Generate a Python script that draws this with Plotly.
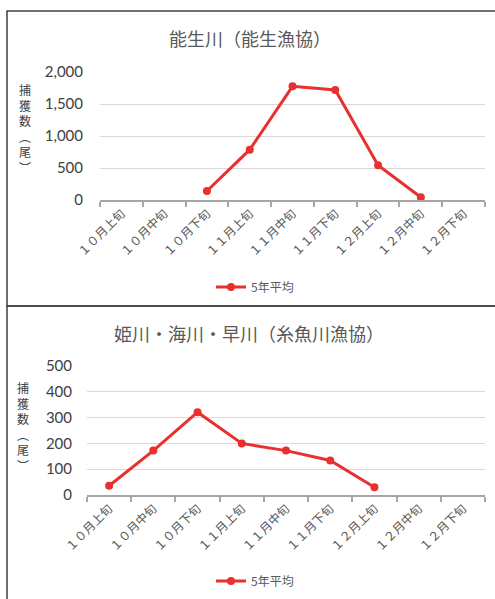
import plotly.graph_objects as go

W, H = 495, 599

categories = ["１０月上旬", "１０月中旬", "１０月下旬", "１１月上旬", "１１月中旬",
              "１１月下旬", "１２月上旬", "１２月中旬", "１２月下旬"]
noh_values = [None, None, 141, 786, 1776, 1719, 542, 42, None]
itoigawa_values = [36, 172, 321, 200, 172, 134, 30, None, None]
series_name = "5年平均"
title_top = "能生川（能生漁協）"
title_bottom = "姫川・海川・早川（糸魚川漁協）"
ytitle_chars = ["捕", "獲", "数", "︵", "尾", "︶"]
top_ticks = [0, 500, 1000, 1500, 2000]
bottom_ticks = [0, 100, 200, 300, 400, 500]

RED = "#E9302F"
FONT = "Lato, 'Noto Sans CJK JP', sans-serif"
CJK = "'Noto Sans CJK JP', sans-serif"


def px(x):
    return x / W


def py(y):
    return 1 - y / H


fig = go.Figure()
fig.add_trace(go.Scatter(x=categories, y=noh_values, mode="lines+markers", name=series_name,
                         line=dict(color=RED, width=3), marker=dict(color=RED, size=8),
                         xaxis="x", yaxis="y", legend="legend", connectgaps=False))
fig.add_trace(go.Scatter(x=categories, y=itoigawa_values, mode="lines+markers", name=series_name,
                         line=dict(color=RED, width=3), marker=dict(color=RED, size=8),
                         xaxis="x2", yaxis="y2", legend="legend2", connectgaps=False))

xcommon = dict(type="category", categoryorder="array", categoryarray=categories,
               range=[-0.5, len(categories) - 0.5], showgrid=False, showline=True,
               linecolor="#A6A6A6", linewidth=1.5, ticks="outside", tickson="boundaries",
               ticklen=5, tickcolor="#A6A6A6", tickwidth=1.5, tickangle=-45,
               tickfont=dict(family=CJK, size=12, color="#595959"), fixedrange=True,
               automargin=False)
ycommon = dict(showgrid=True, gridcolor="#D9D9D9", gridwidth=1, zeroline=False,
               showline=False, ticks="", tickfont=dict(family=FONT, size=15, color="#404040"),
               fixedrange=True, automargin=False)

fig.update_layout(
    width=W, height=H, margin=dict(l=0, r=0, t=0, b=0, pad=0, autoexpand=False),
    paper_bgcolor="white", plot_bgcolor="white",
    xaxis=dict(domain=[px(100), px(485)], anchor="y", **xcommon),
    yaxis=dict(domain=[py(200), py(72)], anchor="x", range=[0, 2000],
               tickvals=top_ticks, tickformat=",d", ticklabelstandoff=16, **ycommon),
    xaxis2=dict(domain=[px(87), px(485)], anchor="y2", **xcommon),
    yaxis2=dict(domain=[py(495), py(366)], anchor="x2", range=[0, 500],
                tickvals=bottom_ticks, ticklabelstandoff=14, **ycommon),
    legend=dict(x=px(255), y=py(287), xanchor="center", yanchor="middle",
                font=dict(family=CJK, size=12, color="#595959"), itemwidth=30,
                bgcolor="rgba(0,0,0,0)"),
    legend2=dict(x=px(255), y=py(581), xanchor="center", yanchor="middle",
                 font=dict(family=CJK, size=12, color="#595959"), itemwidth=30,
                 bgcolor="rgba(0,0,0,0)"),
    showlegend=True,
)

# chart borders
fig.add_shape(type="rect", xref="paper", yref="paper", x0=px(7), x1=px(510), y0=py(11), y1=py(306),
              line=dict(color="#404040", width=1.5), layer="below")
fig.add_shape(type="rect", xref="paper", yref="paper", x0=px(7), x1=px(510), y0=py(306), y1=py(620),
              line=dict(color="#404040", width=1.5), layer="below")

# titles
fig.add_annotation(text=title_top, xref="paper", yref="paper", x=px(250), y=py(38),
                   showarrow=False, xanchor="center", yanchor="middle",
                   font=dict(family=CJK, size=18, color="#595959"))
fig.add_annotation(text=title_bottom, xref="paper", yref="paper", x=px(249), y=py(333),
                   showarrow=False, xanchor="center", yanchor="middle",
                   font=dict(family=CJK, size=18, color="#595959"))

# vertical y-axis titles (one character per line)
ytitle = "<br>".join(ytitle_chars)
for yc, xc in [(128, 25), (426, 23)]:
    fig.add_annotation(text=ytitle, xref="paper", yref="paper", x=px(xc), y=py(yc),
                       showarrow=False, xanchor="center", yanchor="middle",
                       font=dict(family=CJK, size=12, color="#404040"))

fig.write_html("out.html")
